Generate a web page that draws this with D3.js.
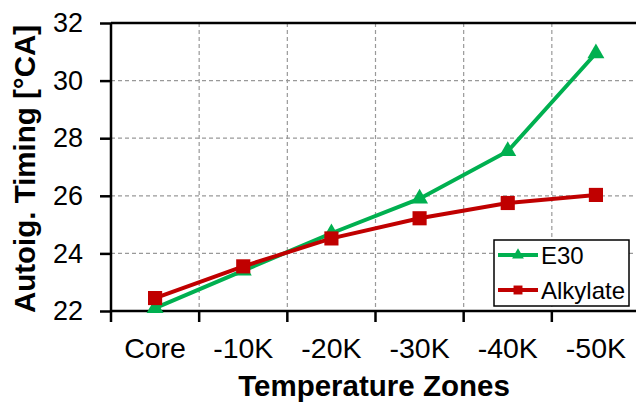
<!DOCTYPE html>
<html><head><meta charset="utf-8">
<script src="https://cdn.jsdelivr.net/npm/d3@7"></script>
<style>body{margin:0;background:#fff}svg{display:block}text{font-family:"Liberation Sans",Arial,sans-serif}</style>
</head><body>
<svg id="c" width="636" height="402"></svg>
<script>
const categories = ["Core","-10K","-20K","-30K","-40K","-50K"];
const e30 = [22.1, 23.4, 24.7, 25.9, 27.55, 30.95];
const alkylate = [22.45, 23.55, 24.52, 25.22, 25.75, 26.03];
const yTicks = [22,24,26,28,30,32];
const seriesNames = ["E30","Alkylate"];
const colors = ["#00b050","#c00000"];

const svg = d3.select("#c");
const L=111, R=640, T=23, B=311;
const x = d3.scaleBand().domain(categories).range([L,R]);
const y = d3.scaleLinear().domain([22,32]).range([B,T]);

// grid
const g = svg.append("g");
g.selectAll(".hg").data(yTicks.slice(1,-1)).join("line")
  .attr("x1",L).attr("x2",R).attr("y1",d=>y(d)).attr("y2",d=>y(d))
  .attr("stroke","#999").attr("stroke-width",1.2).attr("stroke-dasharray","4,3");
g.selectAll(".vg").data(categories.slice(1)).join("line")
  .attr("x1",d=>x(d)).attr("x2",d=>x(d)).attr("y1",T).attr("y2",B)
  .attr("stroke","#999").attr("stroke-width",1.2).attr("stroke-dasharray","4,3");
// top border
svg.append("line").attr("x1",L).attr("x2",R).attr("y1",T).attr("y2",T).attr("stroke","#000").attr("stroke-width",2.5);

// axes
const yAxis = d3.axisLeft(y).tickValues(yTicks).tickSize(11).tickPadding(17);
const ya = svg.append("g").attr("transform",`translate(${L},0)`).call(yAxis);
ya.select(".domain").attr("stroke-width",2.5).attr("d",`M0,${T}V${B}`);
ya.selectAll(".tick line").attr("stroke-width",2.5);
ya.selectAll(".tick text").attr("font-size",27).attr("font-family","Liberation Sans, Arial").attr("fill","#000");

const xAxis = d3.axisBottom(x).tickSize(0).tickPadding(0);
const xa = svg.append("g").attr("transform",`translate(0,${B})`).call(xAxis);
xa.select(".domain").remove();
svg.append("line").attr("x1",L).attr("x2",R).attr("y1",B).attr("y2",B).attr("stroke","#000").attr("stroke-width",2.5);
xa.selectAll(".tick text").attr("font-size",28.5).attr("font-family","Liberation Sans, Arial").attr("fill","#000").attr("dy",0).attr("y",47);
svg.selectAll(".xt").data(categories).join("line")
  .attr("x1",d=>x(d)).attr("x2",d=>x(d)).attr("y1",B).attr("y2",B+11)
  .attr("stroke","#000").attr("stroke-width",2.5);

// titles
svg.append("text").attr("x",374).attr("y",396).attr("text-anchor","middle")
  .attr("font-size",29.5).attr("font-weight","bold").text("Temperature Zones");
svg.append("text").attr("transform","translate(35,169) rotate(-90)").attr("text-anchor","middle")
  .attr("font-size",29.5).attr("font-weight","bold").text("Autoig. Timing [°CA]");

// series
const cx = c => x(c)+x.bandwidth()/2;
const line = d3.line().x((d,i)=>cx(categories[i])).y(d=>y(d));
const data = [e30, alkylate];
const symbols = [d3.symbolTriangle, d3.symbolSquare];
const sizes = [125, 200];
data.forEach((s,k)=>{
  svg.append("path").attr("d",line(s)).attr("fill","none").attr("stroke",colors[k]).attr("stroke-width",4);
  svg.selectAll(".m"+k).data(s).join("path")
    .attr("transform",(d,i)=>`translate(${cx(categories[i])},${y(d)})`)
    .attr("d",d3.symbol(symbols[k],sizes[k])).attr("fill",colors[k]);
});

// legend
const lg = svg.append("g");
lg.append("rect").attr("x",494).attr("y",240).attr("width",135).attr("height",66)
  .attr("fill","#fff").attr("stroke","#000").attr("stroke-width",1.5);
const ly = [255,290];
seriesNames.forEach((n,k)=>{
  lg.append("line").attr("x1",498).attr("x2",538).attr("y1",ly[k]).attr("y2",ly[k]).attr("stroke",colors[k]).attr("stroke-width",4);
  lg.append("path").attr("transform",`translate(518,${ly[k]})`).attr("d",d3.symbol(symbols[k],k?80:60)).attr("fill",colors[k]);
  lg.append("text").attr("x",541).attr("y",ly[k]+8.5).attr("font-size",24).text(n);
});
</script>
</body></html>
